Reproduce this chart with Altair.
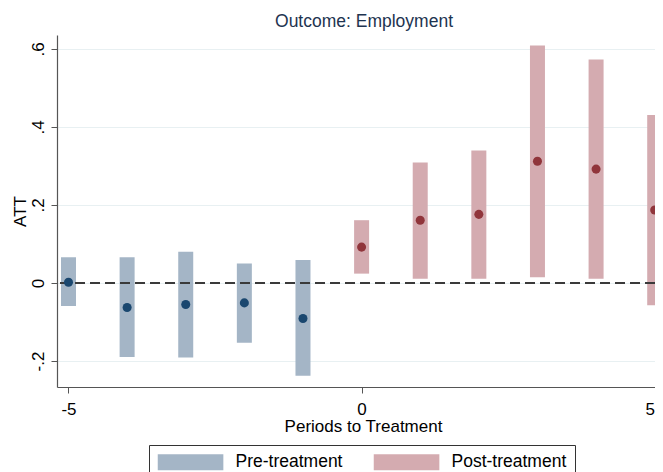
import altair as alt
import pandas as pd

# ---- data ----
pre_x = [-5, -4, -3, -2, -1]
pre_est = [0.002, -0.063, -0.055, -0.051, -0.091]
pre_lo = [-0.059, -0.190, -0.191, -0.153, -0.238]
pre_hi = [0.066, 0.066, 0.080, 0.050, 0.059]

post_x = [0, 1, 2, 3, 4, 5]
post_est = [0.092, 0.161, 0.176, 0.312, 0.292, 0.187]
post_lo = [0.024, 0.011, 0.011, 0.015, 0.011, -0.057]
post_hi = [0.161, 0.309, 0.340, 0.609, 0.573, 0.431]

groups = ["Pre-treatment", "Post-treatment"]
bar_colors = ["#a4b5c6", "#d4abb0"]
dot_colors = ["#1a476f", "#90353b"]
y_ticks = [-0.2, 0, 0.2, 0.4, 0.6]
x_ticks = [-5, 0, 5]

rows = []
for x, e, lo, hi in zip(pre_x, pre_est, pre_lo, pre_hi):
    rows.append({"t": x, "est": e, "lo": lo, "hi": hi, "group": groups[0]})
for x, e, lo, hi in zip(post_x, post_est, post_lo, post_hi):
    rows.append({"t": x, "est": e, "lo": lo, "hi": hi, "group": groups[1]})
df = pd.DataFrame(rows)

FONT = "Liberation Sans"

xscale = alt.Scale(domain=[-5.196, 5.005], nice=False, zero=False, padding=0)
yscale = alt.Scale(domain=[-0.2667, 0.6359], nice=False, zero=False, padding=0)

xaxis = alt.Axis(
    values=x_ticks, grid=False,
    labelExpr="datum.value < 0 ? '-' + toString(abs(datum.value)) : toString(datum.value)",
    labelOffset={"expr": "datum.value == 5 ? -5 : 0"},
    title="Periods to Treatment", titleFont=FONT, titleFontSize=17, titleFontWeight="normal",
    titleColor="#000000", titleX=306, titleY=44.7, titleBaseline="alphabetic", titleAlign="center",
    labelFont=FONT, labelFontSize=17, labelColor="#000000", labelBaseline="alphabetic",
    labelPadding=21, tickSize=6, tickColor="#555555", domainColor="#555555", domainWidth=1.2,
    labelFlush=False, labelBound=False,
)
yaxis = alt.Axis(
    values=y_ticks, grid=True, gridColor="#e8f0f2", gridWidth=1,
    labelExpr="datum.value == 0 ? '0' : (datum.value < 0 ? '-' : '') + replace(format(abs(datum.value), '.1f'), '0.', '.')",
    title="ATT", titleFont=FONT, titleFontSize=17, titleFontWeight="normal", titleColor="#000000",
    titleAngle=270, titleX=-32, titleY=176, titleBaseline="alphabetic", titleAlign="center",
    labelFont=FONT, labelFontSize=17, labelColor="#000000", labelAngle=270,
    labelAlign="center", labelBaseline="alphabetic", labelPadding=8,
    tickSize=6, tickColor="#555555", domainColor="#555555", domainWidth=1.2, labelFlush=False,
)

bars = alt.Chart(df).mark_bar(size=15, opacity=1).encode(
    x=alt.X("t:Q", scale=xscale, axis=xaxis),
    y=alt.Y("lo:Q", scale=yscale, axis=yaxis),
    y2="hi:Q",
    color=alt.Color(
        "group:N",
        scale=alt.Scale(domain=groups, range=bar_colors),
        legend=alt.Legend(
            orient="none", legendX=92, legendY=410, direction="horizontal", columns=2,
            title=None, symbolType="M-1,-1L7.2,-1L7.2,1L-1,1Z", symbolSize=256,
            symbolStrokeWidth=0, symbolOpacity=1, labelFont=FONT, labelFontSize=17.5,
            labelColor="#000000", labelOffset=61, columnPadding=30, padding=8,
            strokeColor="#333333", fillColor="#ffffff", labelLimit=300,
        ),
    ),
)

zero = alt.Chart(df).mark_rule(color="#3a3a3a", strokeWidth=2, strokeDash=[10, 5]).encode(
    y=alt.datum(0, scale=yscale)
)

dots = alt.Chart(df).mark_circle(size=82, opacity=1).encode(
    x=alt.X("t:Q", scale=xscale),
    y=alt.Y("est:Q", scale=yscale),
    color=alt.Color("group:N", scale=alt.Scale(domain=groups, range=dot_colors), legend=None),
)

chart = (
    alt.layer(bars, zero, dots)
    .resolve_scale(color="independent")
    .properties(
        width=598, height=352,
        autosize=alt.AutoSizeParams(type="none"),
        padding={"left": 49, "top": 27, "right": 0, "bottom": 85},
        title=alt.TitleParams(
            "Outcome: Employment", font=FONT, fontSize=17.5, fontWeight="normal",
            color="#1e3450", anchor="middle", offset=6.5, baseline="alphabetic", dx=8, dy=16,
        ),
    )
    .configure_view(stroke=None)
)

chart.save("out.html", embed_options={"renderer": "svg", "actions": False})
